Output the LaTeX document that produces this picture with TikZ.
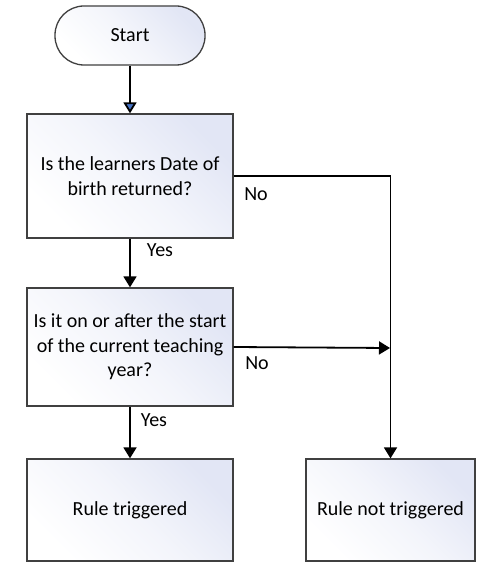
\documentclass[tikz,border=0pt]{standalone}
\usepackage{fontspec}
\setmainfont{Carlito}
\usetikzlibrary{arrows.meta}
\definecolor{boxtint}{RGB}{226,230,245}
\definecolor{edgegray}{RGB}{64,64,64}
\definecolor{tipblue}{RGB}{68,114,196}
\begin{document}
\begin{tikzpicture}[x=1pt,y=-1pt,
  box/.style={draw=edgegray, line width=1.3pt, top color=boxtint, bottom color=white, middle color=white!60!boxtint, shading angle=-45,
    align=center, font=\fontsize{20}{24.5}\selectfont, inner sep=3pt},
  conn/.style={line width=1.8pt, -{Triangle[length=11pt,width=13pt]}},
  lbl/.style={font=\fontsize{20}{22}\selectfont}]
\useasboundingbox (0,0) rectangle (499,577);
\fill[white] (0,0) rectangle (499,577);
\node[box, rounded corners=29pt, minimum width=150pt, minimum height=59pt] (s) at (130,35.5) {Start};
\node[box, minimum width=206pt, minimum height=124pt] (b1) at (130,176) {Is the learners Date of\\birth returned?};
\node[box, minimum width=206pt, minimum height=118pt] (b2) at (130,347) {Is it on or after the start\\of the current teaching\\year?};
\node[box, minimum width=206pt, minimum height=102pt] (b3) at (130,510) {Rule triggered};
\node[box, minimum width=169pt, minimum height=102pt] (b4) at (390.5,510) {Rule not triggered};
\coordinate (j) at (390,348);
\draw[line width=1.8pt, -{Triangle[length=11pt,width=13pt,fill=tipblue]}] (s) -- (b1);
\draw[conn] (b1.east) -| (b4.north);
\draw[conn] (b1) -- (b2);
\draw[conn] (b2.east) -- (j);
\draw[conn] (b2) -- (b3);
\node[lbl] (no1) at (256,194) {No};
\node[lbl] (yes1) at (160,250) {Yes};
\node[lbl] (no2) at (257,363) {No};
\node[lbl] (yes2) at (154,420) {Yes};
\end{tikzpicture}
\end{document}
